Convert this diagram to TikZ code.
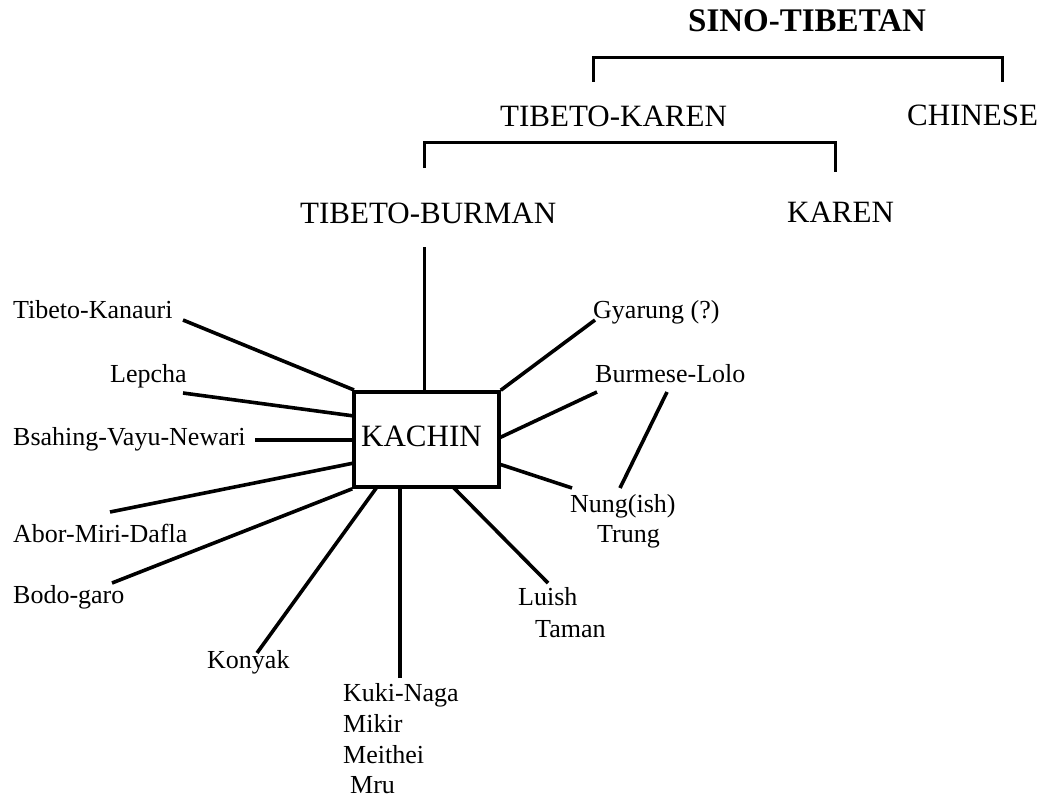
\documentclass[tikz,border=0pt]{standalone}
\usepackage{fontspec}
\setmainfont{Liberation Serif}
\begin{document}
\begin{tikzpicture}[x=1pt,y=-1pt,
  lang/.style={anchor=base west,inner sep=0pt,font=\fontsize{26}{31}\selectfont},
  group/.style={anchor=base west,inner sep=0pt,font=\fontsize{31}{37}\selectfont},
  family/.style={anchor=base west,inner sep=0pt,font=\fontsize{33}{40}\selectfont\bfseries},
  spoke/.style={line width=3.6pt},
  bracket/.style={line width=3pt}]
\useasboundingbox (0,0) rectangle (1049,797);

% top levels of the family tree
\node[family] (sino) at (688,32) {SINO-TIBETAN};
\node[group] (tk) at (500,127) {TIBETO-KAREN};
\node[group] (chinese) at (907,125) {CHINESE};
\node[group] (tb) at (300,223) {TIBETO-BURMAN};
\node[group] (karen) at (787,222) {KAREN};

% bracket ends
\coordinate (sinoL) at (593,82);
\coordinate (sinoR) at (1002,82);
\coordinate (tkL) at (424,168);
\coordinate (tkR) at (835,172);
\draw[bracket] (sinoL) -- (593,58) -- (1002,58) -- (sinoR);
\draw[bracket] (tkL) -- (424,143) -- (835,143) -- (tkR);

% central box
\node[draw,line width=3.6pt,minimum width=145pt,minimum height=95pt,inner sep=0pt] (kachin) at (426.5,439.5) {};
\node[group] (kachinlabel) at (361,446) {KACHIN};
\coordinate (tbfoot) at (424,247);
\draw[line width=3pt] (tbfoot) -- (424,392);

% branches round the box
\node[lang] (tkan) at (13,318) {Tibeto-Kanauri};
\node[lang] (lepcha) at (110,382) {Lepcha};
\node[lang] (bsahing) at (13,445) {Bsahing-Vayu-Newari};
\node[lang] (abor) at (13,542) {Abor-Miri-Dafla};
\node[lang] (bodo) at (13,603) {Bodo-garo};
\node[lang] (konyak) at (207,668) {Konyak};
\node[lang] (kuki) at (343,701) {Kuki-Naga};
\node[lang] (mikir) at (343,732) {Mikir};
\node[lang] (meithei) at (343,763) {Meithei};
\node[lang] (mru) at (350,793) {Mru};
\node[lang] (luish) at (518,605) {Luish};
\node[lang] (taman) at (535,637) {Taman};
\node[lang] (nung) at (570,512) {Nung(ish)};
\node[lang] (trung) at (597,542) {Trung};
\node[lang] (burmese) at (595,382) {Burmese-Lolo};
\node[lang] (gyarung) at (593,318) {Gyarung (?)};

\coordinate (tkanE) at (183,320);
\coordinate (lepchaE) at (183,393);
\coordinate (bsahingE) at (255,440);
\coordinate (aborE) at (110,512);
\coordinate (bodoE) at (112,583);
\coordinate (konyakE) at (257,653);
\coordinate (kukiE) at (400,678);
\coordinate (luishE) at (548,583);
\coordinate (nungE) at (572,488);
\coordinate (burmeseE) at (597,392);
\coordinate (gyarungE) at (595,320);
\coordinate (burmeseN) at (667,392);
\coordinate (nungN) at (620,488);

\draw[spoke] (tkanE) -- (354,390);
\draw[spoke] (lepchaE) -- (354,416);
\draw[spoke] (bsahingE) -- (354,440);
\draw[spoke] (aborE) -- (354,463);
\draw[spoke] (bodoE) -- (kachin.south west);
\draw[spoke] (konyakE) -- (377,487);
\draw[spoke] (kukiE) -- (400,487);
\draw[spoke] (luishE) -- (453,487);
\draw[spoke] (nungE) -- (499,464);
\draw[spoke] (burmeseE) -- (499,438);
\draw[spoke] (gyarungE) -- (kachin.north east);
\draw[spoke] (burmeseN) -- (nungN);
\end{tikzpicture}
\end{document}
